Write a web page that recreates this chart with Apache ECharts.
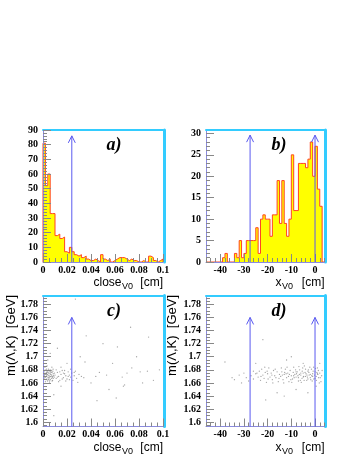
<!DOCTYPE html>
<html>
<head>
<meta charset="utf-8">
<script src="https://cdn.jsdelivr.net/npm/echarts@6/dist/echarts.min.js"></script>
<style>
  html, body { margin: 0; padding: 0; background: #fff; }
  #chart { width: 357px; height: 462px; }
</style>
</head>
<body>
<div id="chart"></div>
<script>
// a) close_V0 histogram, 50 bins from 0 to 0.1
var closeMin = 0, closeWidth = 0.002
var closeBins = [81, 52, 60, 33, 33, 18, 19, 16, 17, 7, 6, 10, 7, 5, 4, 5, 3, 4, 2, 1,
  1, 2, 1, 0, 5, 2, 1, 2, 0, 1, 2, 3, 3, 3, 2, 1, 2, 1, 1, 0,
  0, 1, 0, 0, 4, 3, 1, 0, 1, 2]

// b) x_V0 histogram, 50 bins from -46 to 4
var xMin = -46, xWidth = 1
var xBins = [0, 0, 0, 0, 0, 0, 0, 1, 2, 0, 0, 0, 2, 1, 5, 1, 2, 5, 5, 5,
  5, 8, 2, 10, 11, 10, 10, 6, 11, 11, 19, 9, 19, 9, 6, 10, 25, 12, 12, 23,
  23, 23, 22, 24, 28, 20, 27, 17, 13, 0]

// tick labels
var closeTicks = [0, 0.02, 0.04, 0.06, 0.08, 0.1]
var xTicks = [-40, -30, -20, -10, 0]
var closeCountTicks = [0, 10, 20, 30, 40, 50, 60, 70, 80, 90]
var xCountTicks = [0, 5, 10, 15, 20, 25, 30]
var massTicks = [1.6, 1.62, 1.64, 1.66, 1.68, 1.7, 1.72, 1.74, 1.76, 1.78]

// cut arrows: [x, from, to]
var closeCutHist = [[0.024, 0, 86]]
var xCutHist = [[-27.4, 0, 29.6], [0, 0, 29.6]]
var closeCutMass = [[0.024, 1.5935, 1.76]]
var xCutMass = [[-27.4, 1.5935, 1.76], [0, 1.5935, 1.76]]

// c) m(Lambda,K) vs close_V0
var massClose = [
  [0.001, 1.671], [0.0015, 1.668], [0.002, 1.674], [0.0025, 1.665], [0.003, 1.672], [0.0035, 1.678],
  [0.004, 1.669], [0.0045, 1.675], [0.005, 1.671], [0.0055, 1.663], [0.006, 1.68], [0.0065, 1.673],
  [0.007, 1.667], [0.0075, 1.676], [0.008, 1.670], [0.0085, 1.674], [0.001, 1.677], [0.002, 1.662],
  [0.003, 1.681], [0.004, 1.676], [0.005, 1.666], [0.006, 1.670], [0.007, 1.679], [0.008, 1.664],
  [0.0012, 1.673], [0.0022, 1.669], [0.0032, 1.666], [0.0042, 1.672], [0.0052, 1.677], [0.0062, 1.665],
  [0.0072, 1.672], [0.0082, 1.678], [0.0018, 1.680], [0.0028, 1.676], [0.0038, 1.663], [0.0048, 1.668],
  [0.0058, 1.674], [0.0068, 1.670], [0.0078, 1.668], [0.0088, 1.671], [0.0008, 1.666], [0.0016, 1.684],
  [0.0026, 1.670], [0.0036, 1.673], [0.0046, 1.681], [0.0056, 1.669], [0.0066, 1.676], [0.0076, 1.663],
  [0.0086, 1.667], [0.0096, 1.675], [0.0014, 1.659], [0.0034, 1.686], [0.0054, 1.660], [0.0074, 1.684],
  [0.0024, 1.673], [0.0044, 1.665], [0.0064, 1.678], [0.0084, 1.681], [0.0094, 1.669], [0.0004, 1.675],
  [0.010, 1.672], [0.011, 1.667], [0.012, 1.676], [0.013, 1.670], [0.014, 1.664], [0.015, 1.673],
  [0.016, 1.679], [0.017, 1.668], [0.018, 1.674], [0.019, 1.671], [0.020, 1.666], [0.021, 1.677],
  [0.022, 1.672], [0.023, 1.669], [0.024, 1.675], [0.025, 1.664], [0.026, 1.671], [0.027, 1.678],
  [0.028, 1.667], [0.030, 1.673], [0.011, 1.680], [0.013, 1.662], [0.015, 1.684], [0.017, 1.675],
  [0.019, 1.663], [0.021, 1.670], [0.023, 1.681], [0.012, 1.669], [0.014, 1.677], [0.016, 1.666],
  [0.018, 1.679], [0.022, 1.665], [0.026, 1.676], [0.032, 1.670], [0.029, 1.661], [0.034, 1.668],
  [0.036, 1.732], [0.047, 1.676], [0.053, 1.672], [0.066, 1.669], [0.068, 1.657], [0.067, 1.655],
  [0.074, 1.683], [0.081, 1.677], [0.087, 1.678], [0.073, 1.745], [0.061, 1.637], [0.045, 1.633],
  [0.009, 1.642], [0.006, 1.705], [0.012, 1.713], [0.035, 1.692], [0.040, 1.660], [0.058, 1.690],
  [0.078, 1.700], [0.092, 1.664], [0.050, 1.720], [0.027, 1.788], [0.015, 1.655], [0.020, 1.690],
  [0.004, 1.695], [0.002, 1.650], [0.044, 1.670], [0.070, 1.675], [0.083, 1.660], [0.097, 1.680],
  [0.055, 1.650], [0.031, 1.700], [0.062, 1.715], [0.088, 1.730], [0.009, 1.610]
]

// d) m(Lambda,K) vs x_V0
var massX = [
  [-38, 1.692], [-35, 1.668], [-34, 1.665], [-32, 1.672], [-31, 1.660], [-30, 1.675], [-29, 1.668],
  [-28, 1.663], [-27, 1.671], [-26, 1.678], [-26, 1.666], [-25, 1.674],
  [-24, 1.669], [-23.5, 1.678], [-23, 1.664], [-22.5, 1.681], [-22, 1.672], [-21.5, 1.667],
  [-21, 1.676], [-20.5, 1.661], [-20, 1.674], [-19.5, 1.683], [-19, 1.669], [-18.5, 1.675],
  [-18, 1.665], [-17.5, 1.679], [-17, 1.671], [-16.5, 1.668], [-16, 1.677], [-15.5, 1.662],
  [-15, 1.673], [-24.5, 1.675], [-22.8, 1.670], [-21.2, 1.684], [-19.8, 1.666], [-18.2, 1.672],
  [-16.8, 1.681], [-15.2, 1.667], [-20.2, 1.678], [-17.8, 1.660], [-22, 1.726], [-20.8, 1.634],
  [-14.5, 1.670], [-14, 1.677], [-13.5, 1.665], [-13, 1.673], [-12.5, 1.681], [-12, 1.668],
  [-11.5, 1.675], [-11, 1.662], [-10.5, 1.679], [-10, 1.671], [-9.5, 1.666], [-9, 1.684],
  [-8.5, 1.673], [-8, 1.669], [-7.5, 1.677], [-7, 1.663], [-6.5, 1.680], [-6, 1.672],
  [-5.5, 1.667], [-5, 1.675], [-4.5, 1.686], [-4, 1.670], [-3.5, 1.664], [-3, 1.678],
  [-2.5, 1.672], [-2, 1.668], [-1.5, 1.681], [-1, 1.674], [-0.5, 1.666], [0, 1.677],
  [0.5, 1.670], [1, 1.683], [1.5, 1.668], [2, 1.675], [2.5, 1.662], [3, 1.679],
  [-14.2, 1.683], [-13.2, 1.660], [-12.2, 1.674], [-11.2, 1.670], [-10.2, 1.665], [-9.2, 1.676],
  [-8.2, 1.680], [-7.2, 1.671], [-6.2, 1.664], [-5.2, 1.683], [-4.2, 1.676], [-3.2, 1.669],
  [-2.2, 1.684], [-1.2, 1.663], [-0.2, 1.672], [0.8, 1.676], [1.8, 1.660], [2.8, 1.671],
  [-13.8, 1.672], [-12.8, 1.676], [-11.8, 1.684], [-10.8, 1.673], [-9.8, 1.661], [-8.8, 1.668],
  [-7.8, 1.674], [-6.8, 1.685], [-5.8, 1.661], [-4.8, 1.670], [-3.8, 1.674], [-2.8, 1.680],
  [-1.8, 1.665], [-0.8, 1.678], [0.2, 1.682], [1.2, 1.673], [2.2, 1.668],
  [-9, 1.671], [-8, 1.677], [-7, 1.668], [-6, 1.675], [-5, 1.669], [-4, 1.681], [-3, 1.666],
  [-2, 1.673], [-1, 1.670], [0, 1.667], [1, 1.674], [-6.6, 1.673], [-4.6, 1.664], [-2.6, 1.676],
  [-0.6, 1.684], [1.4, 1.679], [-5.4, 1.678], [-3.4, 1.672], [-1.4, 1.671], [0.6, 1.664],
  [-12, 1.695], [-5, 1.690], [2, 1.690], [-16, 1.645], [-8, 1.650], [0.5, 1.655], [-10, 1.700],
  [-3, 1.645], [-25, 1.690], [-13, 1.640]
]

var AXIS_COLOR = '#8a8ae0'
var TICK_COLOR = '#888'
var FRAME_COLOR = '#33ccff'
var HIST_LINE = '#ff4422'
var HIST_FILL = '#ffff00'
var ARROW_COLOR = '#5a5af0'
var labelFont = { fontFamily: '"Liberation Serif", serif', fontWeight: 'bold', fontSize: 10, color: '#000' }

function steps(from, to, step) {
  var out = []
  for (var v = from; v <= to + 1e-9; v += step) out.push(+v.toFixed(4))
  return out
}

// step outline points from bin contents
function histPoints(bins, min, width) {
  var pts = [[min, 0]]
  bins.forEach(function (c, i) { pts.push([+(min + i * width).toFixed(4), c]) })
  pts.push([+(min + bins.length * width).toFixed(4), 0])
  return pts
}

function xAxes(g, min, max, ticks, minor) {
  return [
    { gridIndex: g, type: 'value', min: min, max: max, position: 'bottom', z: 5,
      axisLine: { show: true, onZero: false, lineStyle: { color: AXIS_COLOR } },
      axisTick: { show: true, inside: true, length: 8, customValues: ticks, lineStyle: { color: TICK_COLOR } },
      axisLabel: Object.assign({ customValues: ticks, margin: 3, formatter: function (v) { return String(v) } }, labelFont),
      splitLine: { show: false } },
    { gridIndex: g, type: 'value', min: min, max: max, position: 'bottom', z: 5,
      axisLine: { show: false, onZero: false },
      axisTick: { show: true, inside: true, length: 4, customValues: minor, lineStyle: { color: TICK_COLOR } },
      axisLabel: { show: false }, splitLine: { show: false } },
    { gridIndex: g, type: 'value', min: min, max: max, position: 'top', z: 5,
      axisLine: { show: true, onZero: false, lineStyle: { color: FRAME_COLOR, width: 2 } },
      axisTick: { show: false }, axisLabel: { show: false }, splitLine: { show: false } }
  ]
}

function yAxes(g, min, max, ticks, minor) {
  return [
    { gridIndex: g, type: 'value', min: min, max: max, position: 'left', z: 5,
      axisLine: { show: true, onZero: false, lineStyle: { color: AXIS_COLOR } },
      axisTick: { show: true, inside: true, length: 8, customValues: ticks, lineStyle: { color: TICK_COLOR } },
      axisLabel: Object.assign({ customValues: ticks, margin: 5, formatter: function (v) { return String(v) } }, labelFont),
      splitLine: { show: false } },
    { gridIndex: g, type: 'value', min: min, max: max, position: 'left', z: 5,
      axisLine: { show: false, onZero: false },
      axisTick: { show: true, inside: true, length: 4, customValues: minor, lineStyle: { color: TICK_COLOR } },
      axisLabel: { show: false }, splitLine: { show: false } },
    { gridIndex: g, type: 'value', min: min, max: max, position: 'right', offset: 1, z: 5,
      axisLine: { show: true, onZero: false, lineStyle: { color: FRAME_COLOR, width: 3 } },
      axisTick: { show: false }, axisLabel: { show: false }, splitLine: { show: false } }
  ]
}

function histSeries(g, bins, min, width) {
  return { type: 'line', xAxisIndex: 3 * g, yAxisIndex: 3 * g, data: histPoints(bins, min, width),
    step: 'end', symbol: 'none', z: 2,
    lineStyle: { color: HIST_LINE, width: 1 },
    areaStyle: { color: HIST_FILL, opacity: 1 } }
}

function scatterSeries(g, pts) {
  return { type: 'scatter', xAxisIndex: 3 * g, yAxisIndex: 3 * g, data: pts,
    symbolSize: 1.3, itemStyle: { color: '#666', opacity: 0.6 }, z: 2 }
}

function arrowSeries(g, arrows) {
  return { type: 'custom', xAxisIndex: 3 * g, yAxisIndex: 3 * g, data: arrows, clip: false, z: 6,
    encode: { x: 0, y: [1, 2] },
    renderItem: function (params, api) {
      var p0 = api.coord([api.value(0), api.value(1)])
      var p1 = api.coord([api.value(0), api.value(2)])
      return { type: 'group', children: [
        { type: 'line', shape: { x1: p0[0], y1: p0[1], x2: p1[0], y2: p1[1] },
          style: { stroke: ARROW_COLOR, lineWidth: 1 } },
        { type: 'polyline', shape: { points: [[p1[0] - 3.5, p1[1] + 7], [p1[0], p1[1]], [p1[0] + 3.5, p1[1] + 7]] },
          style: { stroke: ARROW_COLOR, fill: null, lineWidth: 1 } }
      ] }
    } }
}

function text(x, y, str, font, align, extra) {
  return Object.assign({ type: 'text', x: x, y: y, z: 10,
    style: { text: str, font: font, fill: '#000', align: align, verticalAlign: 'middle' } }, extra || {})
}

var tagFont = 'italic bold 18px "Liberation Serif"'
var titleFont = '12px "Liberation Sans"'
var subFont = '9px "Liberation Sans"'
var yTitleFont = '13px "Liberation Sans"'

var chart = echarts.init(document.getElementById('chart'))
chart.setOption({
  animation: false,
  backgroundColor: '#fff',
  grid: [
    { left: 43, top: 130, width: 120, height: 132, outerBoundsMode: 'none' },
    { left: 206, top: 130, width: 118.5, height: 132, outerBoundsMode: 'none' },
    { left: 43, top: 295.5, width: 120, height: 131, outerBoundsMode: 'none' },
    { left: 206, top: 295.5, width: 118.5, height: 131, outerBoundsMode: 'none' }
  ],
  xAxis: [].concat(
    xAxes(0, 0, 0.1, closeTicks, steps(0, 0.1, 0.005)),
    xAxes(1, -46, 4, xTicks, steps(-46, 4, 2)),
    xAxes(2, 0, 0.1, closeTicks, steps(0, 0.1, 0.005)),
    xAxes(3, -46, 4, xTicks, steps(-46, 4, 2))
  ),
  yAxis: [].concat(
    yAxes(0, 0, 90, closeCountTicks, steps(0, 90, 2)),
    yAxes(1, 0, 30.8, xCountTicks, steps(0, 30, 1)),
    yAxes(2, 1.5935, 1.7935, massTicks, steps(1.595, 1.79, 0.005)),
    yAxes(3, 1.5935, 1.7935, massTicks, steps(1.595, 1.79, 0.005))
  ),
  series: [
    histSeries(0, closeBins, closeMin, closeWidth),
    histSeries(1, xBins, xMin, xWidth),
    scatterSeries(2, massClose),
    scatterSeries(3, massX),
    arrowSeries(0, closeCutHist),
    arrowSeries(1, xCutHist),
    arrowSeries(2, closeCutMass),
    arrowSeries(3, xCutMass)
  ],
  graphic: [
    text(114, 145, 'a)', tagFont, 'center'),
    text(279, 145, 'b)', tagFont, 'center'),
    text(114, 311.5, 'c)', tagFont, 'center'),
    text(279, 311, 'd)', tagFont, 'center'),
    text(121.5, 283, 'close', titleFont, 'right'),
    text(122, 286.5, 'V0', subFont, 'left'),
    text(163, 283, '[cm]', titleFont, 'right'),
    text(281.5, 283, 'x', titleFont, 'right'),
    text(282, 286.5, 'V0', subFont, 'left'),
    text(324.5, 283, '[cm]', titleFont, 'right'),
    text(121.5, 448, 'close', titleFont, 'right'),
    text(122, 451.5, 'V0', subFont, 'left'),
    text(163, 448, '[cm]', titleFont, 'right'),
    text(281.5, 448, 'x', titleFont, 'right'),
    text(282, 451.5, 'V0', subFont, 'left'),
    text(324.5, 448, '[cm]', titleFont, 'right'),
    text(11, 295, 'm(Λ,K)  [GeV]', yTitleFont, 'right', { rotation: Math.PI / 2 }),
    text(172, 295, 'm(Λ,K)  [GeV]', yTitleFont, 'right', { rotation: Math.PI / 2 })
  ]
})
</script>
</body>
</html>
